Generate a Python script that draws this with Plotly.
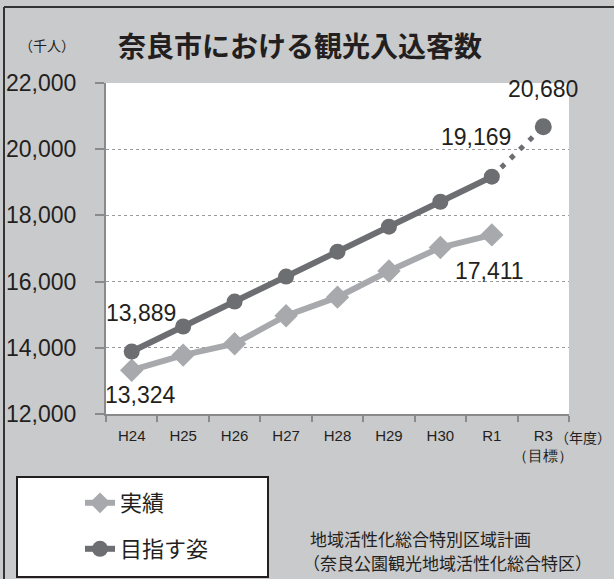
import plotly.graph_objects as go

# ---- data ----
categories = ["H24", "H25", "H26", "H27", "H28", "H29", "H30", "R1", "R3"]
tick_labels = ["H24", "H25", "H26", "H27", "H28", "H29", "H30", "R1", "R3<br>（目標）"]
actual_x = ["H24", "H25", "H26", "H27", "H28", "H29", "H30", "R1"]
actual_values = [13324, 13780, 14124, 14970, 15530, 16320, 17030, 17411]
target_x = ["H24", "H25", "H26", "H27", "H28", "H29", "H30", "R1"]
target_values = [13889, 14643, 15397, 16151, 16905, 17659, 18413, 19169]
projection_x = ["R1", "R3"]
projection_values = [19169, 20680]
y_ticks = [12000, 14000, 16000, 18000, 20000, 22000]

# ---- geometry (pixel -> paper; margins are zero so paper = whole figure) ----
W, H = 614, 579
PLOT_L, PLOT_R, PLOT_T, PLOT_B = 106, 569, 83, 414


def fx(x):
    return x / W


def fy(y):
    return 1 - y / H


NUM_FONT = "Liberation Sans, Arial, sans-serif"
JP_FONT = "Noto Sans CJK JP, sans-serif"
C_ACT = "#a7a9ac"
C_TGT = "#6d6e71"
TXT = "#231f20"
AXC = "#8a8a8a"

fig = go.Figure()
fig.add_trace(go.Scatter(
    x=actual_x, y=actual_values, name="実績", mode="lines+markers",
    line=dict(color=C_ACT, width=6),
    marker=dict(symbol="diamond", size=18, color=C_ACT),
    legend="legend",
))
fig.add_trace(go.Scatter(
    x=target_x, y=target_values, name="目指す姿", mode="lines+markers",
    line=dict(color=C_TGT, width=6),
    marker=dict(symbol="circle", size=16, color=C_TGT),
    legend="legend2",
))
fig.add_trace(go.Scatter(
    x=projection_x, y=projection_values, mode="lines",
    line=dict(color=C_TGT, width=5, dash="5px,8px"),
    showlegend=False,
))
fig.add_trace(go.Scatter(
    x=projection_x[-1:], y=projection_values[-1:], mode="markers",
    marker=dict(symbol="circle", size=17, color=C_TGT, opacity=1),
    showlegend=False,
))

# data labels anchored to data points
labels = [
    (actual_x[0], actual_values[0], 9, -25),
    (target_x[0], target_values[0], 9, 38),
    (actual_x[-1], actual_values[-1], -2, -36),
    (target_x[-1], target_values[-1], -16, 40),
    (projection_x[-1], projection_values[-1], 0, 38),
]
annotations = []
for x, y, dx, dy in labels:
    annotations.append(dict(
        x=x, y=y, xref="x", yref="y", text=f"{y:,}", showarrow=False,
        xshift=dx, yshift=dy, font=dict(family=NUM_FONT, size=23, color=TXT),
        xanchor="center", yanchor="middle",
    ))

annotations += [
    dict(x=fx(300), y=fy(45), xref="paper", yref="paper",
         text="<b>奈良市における観光入込客数</b>", showarrow=False,
         font=dict(family=JP_FONT, size=28, color=TXT), xanchor="center", yanchor="middle"),
    dict(x=fx(47), y=fy(45), xref="paper", yref="paper", text="（千人）",
         showarrow=False, font=dict(family=JP_FONT, size=14, color=TXT),
         xanchor="center", yanchor="middle"),
    dict(x=fx(553), y=fy(437), xref="paper", yref="paper", text="（年度）",
         showarrow=False, font=dict(family=JP_FONT, size=14, color=TXT),
         xanchor="left", yanchor="middle"),
    dict(x=fx(308), y=fy(538), xref="paper", yref="paper", text="地域活性化総合特別区域計画",
         showarrow=False, font=dict(family=JP_FONT, size=17, color=TXT),
         xanchor="left", yanchor="middle"),
    dict(x=fx(301), y=fy(562), xref="paper", yref="paper", text="（奈良公園観光地域活性化総合特区）",
         showarrow=False, font=dict(family=JP_FONT, size=17, color=TXT),
         xanchor="left", yanchor="middle"),
]

shapes = [
    # legend box
    dict(type="rect", xref="paper", yref="paper", x0=fx(17), x1=fx(268), y0=fy(577), y1=fy(477),
         fillcolor="white", line=dict(color=TXT, width=2), layer="below"),
    # outer border (left & top)
    dict(type="line", xref="paper", yref="paper", x0=fx(4), x1=fx(4), y0=fy(7), y1=0,
         line=dict(color="#333333", width=2)),
    dict(type="line", xref="paper", yref="paper", x0=fx(4), x1=1, y0=fy(7), y1=fy(7),
         line=dict(color="#333333", width=2)),
]

legend_common = dict(bgcolor="rgba(0,0,0,0)", borderwidth=0,
                     font=dict(family=JP_FONT, size=22, color=TXT),
                     xanchor="left", yanchor="middle", xref="paper", yref="paper")

fig.update_layout(
    template="none",
    width=W, height=H,
    margin=dict(l=0, r=0, t=0, b=0, pad=0),
    paper_bgcolor="#c9cacc",
    plot_bgcolor="white",
    showlegend=True,
    legend=dict(x=fx(80), y=fy(503), **legend_common),
    legend2=dict(x=fx(80), y=fy(549), **legend_common),
    annotations=annotations,
    shapes=shapes,
    xaxis=dict(
        domain=[fx(PLOT_L), fx(PLOT_R)],
        type="category", categoryorder="array", categoryarray=categories,
        range=[-0.5, len(categories) - 0.5],
        tickvals=categories, ticktext=tick_labels, tickangle=0,
        tickson="boundaries", ticks="outside", ticklen=6, tickcolor=AXC, tickwidth=2,
        showline=True, linecolor=AXC, linewidth=2, showgrid=False, zeroline=False,
        tickfont=dict(family=NUM_FONT, size=15, color=TXT), ticklabelstandoff=7,
        automargin=False, fixedrange=True,
    ),
    yaxis=dict(
        domain=[fy(PLOT_B), fy(PLOT_T)],
        range=[12000, 22000], tickvals=y_ticks, tickformat=",d",
        ticks="outside", ticklen=9, tickcolor=AXC, tickwidth=2,
        showline=True, linecolor=AXC, linewidth=2,
        showgrid=True, gridcolor="#9a9a9a", griddash="dot", gridwidth=1,
        tickfont=dict(family=NUM_FONT, size=23, color=TXT), ticklabelstandoff=14,
        zeroline=False, automargin=False, fixedrange=True,
    ),
)

fig.write_html(
    "out.html",
    config={"displayModeBar": False},
    post_script="document.body.style.margin='0';document.body.style.padding='0';"
                "document.body.style.overflow='hidden';",
)
